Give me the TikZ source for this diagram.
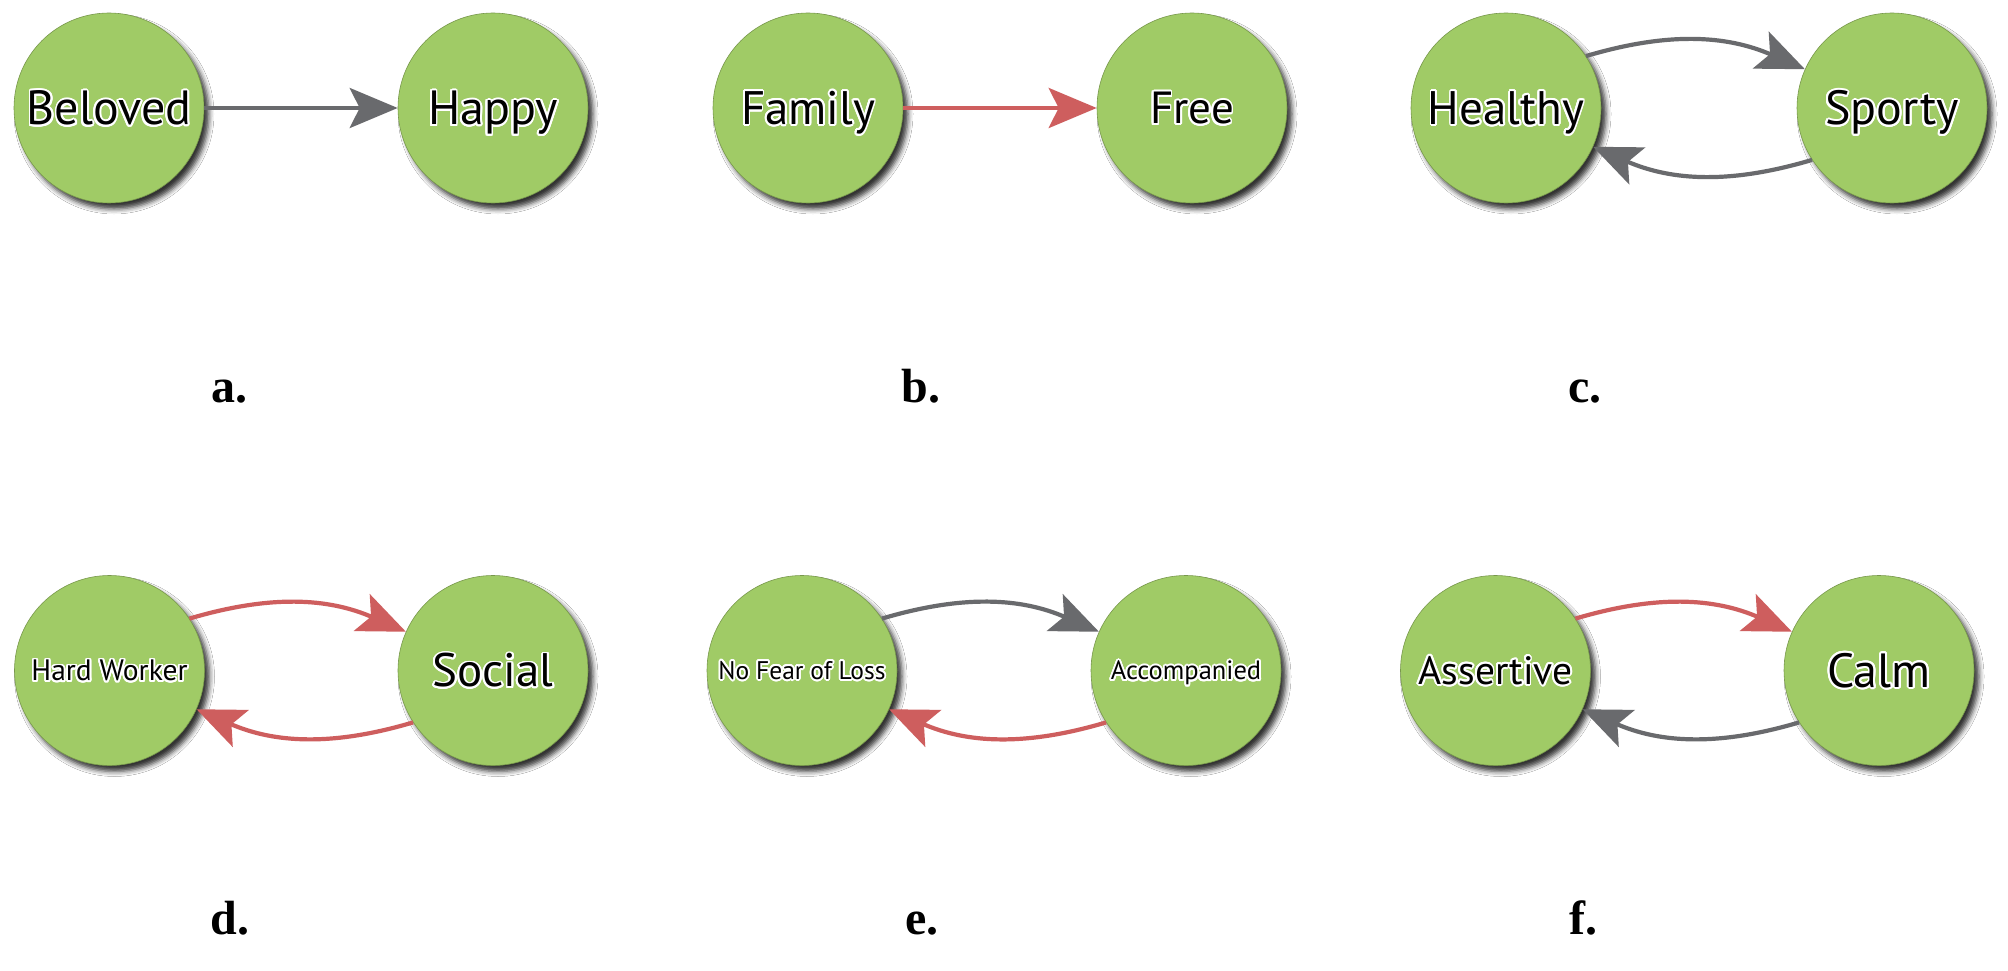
\documentclass[tikz,border=0pt]{standalone}
\usepackage{fontspec}
\setmainfont{PT Sans}
\newfontfamily\lblfont{Liberation Serif}
\usepackage[copies]{contour}
\contourlength{1.8pt}
\contournumber{24}
\usetikzlibrary{arrows.meta,shadows.blur}
\definecolor{nodegreen}{RGB}{160,203,102}
\definecolor{edgegray}{RGB}{105,106,109}
\definecolor{edgered}{RGB}{206,94,94}
\newcommand\nodetxt[2]{\fontsize{#1pt}{#1pt}\selectfont\raisebox{0pt}[0.7em][0pt]{\contour{white}{#2}}}
\tikzset{
  state/.style={circle, minimum size=190pt, inner sep=0pt, fill=nodegreen,
    draw=nodegreen!75!black, line width=0.6pt,
    blur shadow={shadow xshift=5pt, shadow yshift=-6pt, shadow blur radius=5pt, shadow opacity=80}},
  link/.style={line width=4.2pt, -{Stealth[length=48pt,width=40pt,inset=10pt]}},
  graylink/.style={link, draw=edgegray},
  redlink/.style={link, draw=edgered},
  panel/.style={anchor=base, inner sep=0pt, font=\lblfont\bfseries\fontsize{48pt}{48pt}\selectfont}
}
\begin{document}
\begin{tikzpicture}
\useasboundingbox[fill=white] (0,0) rectangle (2008pt,-971pt);
% panel a
\node[state] (bel) at (109pt,-108pt) {\nodetxt{48}{Beloved}};
\node[state] (hap) at (493pt,-108pt) {\nodetxt{48}{Happy}};
\draw[graylink] (bel) -- (hap);
\node[panel] (la) at (229pt,-402pt) {a.};
% panel b
\node[state] (fam) at (808pt,-108pt) {\nodetxt{47}{Family}};
\node[state] (fre) at (1192pt,-108pt) {\nodetxt{45}{Free}};
\draw[redlink] (fam) -- (fre);
\node[panel] (lb) at (921pt,-402pt) {b.};
% panel c
\node[state] (hea) at (1506pt,-108pt) {\nodetxt{47}{Healthy}};
\node[state] (spo) at (1892pt,-108pt) {\nodetxt{48}{Sporty}};
\draw[graylink] (hea.33) to[bend left=20] (spo.156);
\draw[graylink] (spo.213) to[bend left=20] (hea.336);
\node[panel] (lc) at (1585pt,-402pt) {c.};
% panel d
\node[state] (har) at (109.5pt,-670.5pt) {\nodetxt{29.5}{Hard Worker}};
\node[state] (soc) at (493pt,-670.5pt) {\nodetxt{47}{Social}};
\draw[redlink] (har.33) to[bend left=20] (soc.156);
\draw[redlink] (soc.213) to[bend left=20] (har.336);
\node[panel] (ld) at (230pt,-934pt) {d.};
% panel e
\node[state] (nof) at (802pt,-670.5pt) {\nodetxt{25.5}{No Fear of Loss}};
\node[state] (acc) at (1186pt,-670.5pt) {\nodetxt{26.5}{Accompanied}};
\draw[graylink] (nof.33) to[bend left=20] (acc.156);
\draw[redlink] (acc.213) to[bend left=20] (nof.336);
\node[panel] (le) at (922pt,-934pt) {e.};
% panel f
\node[state] (ass) at (1495.5pt,-670.5pt) {\nodetxt{39.5}{Assertive}};
\node[state] (cal) at (1879pt,-670.5pt) {\nodetxt{48}{Calm}};
\draw[redlink] (ass.33) to[bend left=20] (cal.156);
\draw[graylink] (cal.213) to[bend left=20] (ass.336);
\node[panel] (lf) at (1583pt,-934pt) {f.};
\end{tikzpicture}
\end{document}
